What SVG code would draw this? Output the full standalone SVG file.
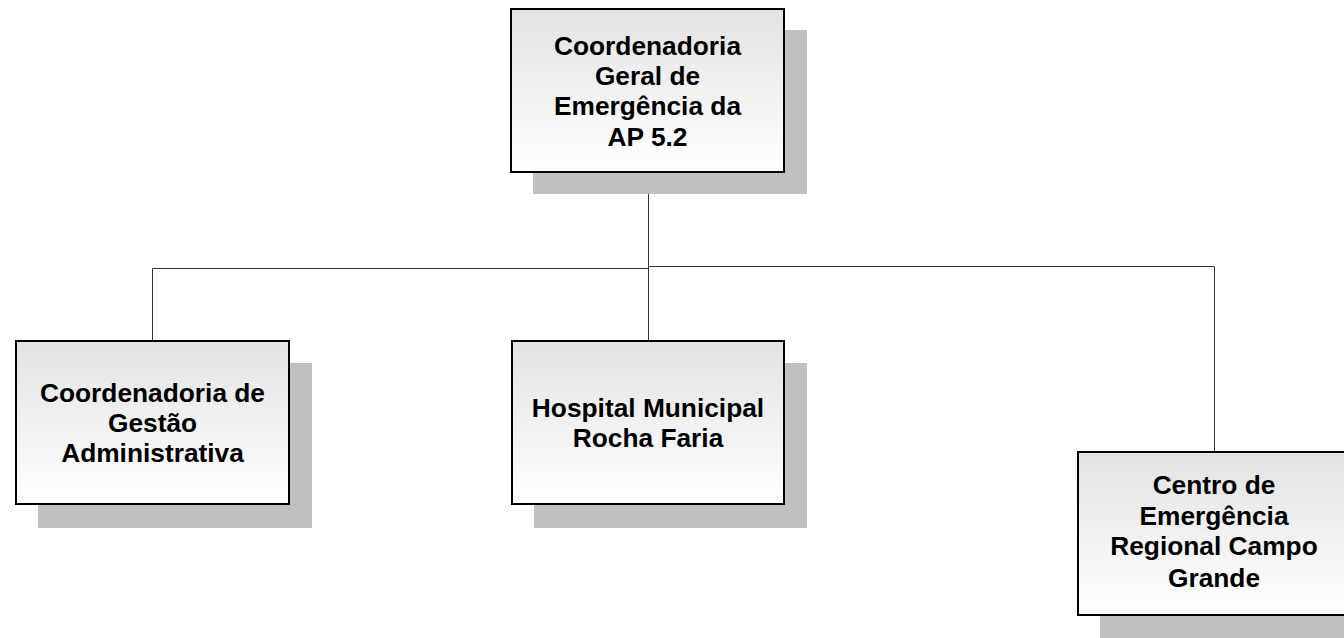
<svg xmlns="http://www.w3.org/2000/svg" width="1344" height="638" viewBox="0 0 1344 638">
<defs>
<linearGradient id="g" x1="0" y1="0" x2="0" y2="1">
<stop offset="0" stop-color="#e3e3e3"/>
<stop offset="1" stop-color="#ffffff"/>
</linearGradient>
<style>
.sh{fill:#c0c0c0}
.bx{fill:url(#g);stroke:#000;stroke-width:2}
.t{font-family:"Liberation Sans",Arial,sans-serif;font-weight:bold;font-size:26.3px;fill:#000;text-anchor:middle}
.c{stroke:#333;stroke-width:1;fill:none}
</style>
</defs>
<rect width="1344" height="638" fill="#fff"/>
<g id="connectors">
<path class="c" d="M648.5 172V266.5M648.5 266.5H1214.5V452M648.5 266.5V341M152.5 268.5H648.5M152.5 268.5V341"/>
</g>
<g id="top">
<rect class="sh" x="533" y="30" width="274" height="164"/>
<rect class="bx" x="511" y="9" width="273" height="163"/>
<text class="t" x="647.5" y="55">Coordenadoria</text>
<text class="t" x="647.5" y="85">Geral de</text>
<text class="t" x="647.5" y="115">Emergência da</text>
<text class="t" x="647.5" y="146">AP 5.2</text>
</g>
<g id="left">
<rect class="sh" x="38" y="363" width="274" height="165"/>
<rect class="bx" x="16" y="341" width="273" height="163"/>
<text class="t" x="152.5" y="402">Coordenadoria de</text>
<text class="t" x="152.5" y="432">Gestão</text>
<text class="t" x="152.5" y="462">Administrativa</text>
</g>
<g id="middle">
<rect class="sh" x="534" y="363" width="273" height="165"/>
<rect class="bx" x="512" y="341" width="272" height="163"/>
<text class="t" x="648" y="417">Hospital Municipal</text>
<text class="t" x="648" y="447">Rocha Faria</text>
</g>
<g id="right">
<rect class="sh" x="1100" y="474" width="274" height="165"/>
<rect class="bx" x="1078" y="452" width="272" height="163"/>
<text class="t" x="1214" y="494">Centro de</text>
<text class="t" x="1214" y="525">Emergência</text>
<text class="t" x="1214" y="555">Regional Campo</text>
<text class="t" x="1214" y="587">Grande</text>
</g>
</svg>
